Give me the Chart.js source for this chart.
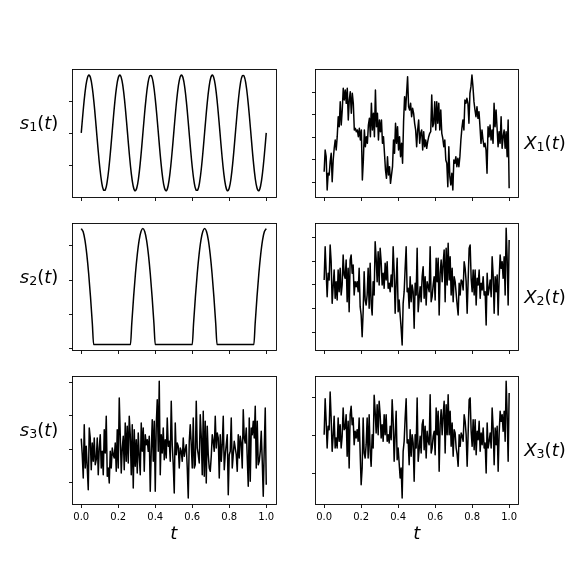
<!DOCTYPE html>
<html>
<head>
<meta charset="utf-8">
<script src="https://cdn.jsdelivr.net/npm/chart.js@4.4.0/dist/chart.umd.min.js"></script>
<style>
    body { margin: 0; background: #fff; }
    #fig { position: relative; width: 576px; height: 576px; overflow: hidden; background: #fff; }
    #fig canvas { position: absolute; left: 0; top: 0; }
    .lbl {
        position: absolute; font-family: "DejaVu Sans"; font-size: 18px; color: #000;
        white-space: nowrap; transform: translate(-50%, -50%); line-height: 1;
    }
    .lbl i { font-style: italic; }
    .lbl sub { font-size: 0.7em; vertical-align: -0.18em; line-height: 0; }
</style>
</head>
<body>
<div id="fig"></div>
<script>
// 1. DADOS
const xTickValues = [0, 0.2, 0.4, 0.6, 0.8, 1.0];
const xTickLabels = ['0.0', '0.2', '0.4', '0.6', '0.8', '1.0'];

// s1: seno, 101 amostras em t = 0..1
const s1Values = [
    0, 0.368, 0.685, 0.905, 0.998, 0.951, 0.771, 0.482, 0.125, -0.249,
    -0.588, -0.844, -0.982, -0.982, -0.844, -0.588, -0.249, 0.125, 0.482, 0.771,
    0.951, 0.998, 0.905, 0.685, 0.368, 0, -0.368, -0.685, -0.905, -0.998,
    -0.951, -0.771, -0.482, -0.125, 0.249, 0.588, 0.844, 0.982, 0.982, 0.844,
    0.588, 0.249, -0.125, -0.482, -0.771, -0.951, -0.998, -0.905, -0.685, -0.368,
    0, 0.368, 0.685, 0.905, 0.998, 0.951, 0.771, 0.482, 0.125, -0.249,
    -0.588, -0.844, -0.982, -0.982, -0.844, -0.588, -0.249, 0.125, 0.482, 0.771,
    0.951, 0.998, 0.905, 0.685, 0.368, 0, -0.368, -0.685, -0.905, -0.998,
    -0.951, -0.771, -0.482, -0.125, 0.249, 0.588, 0.844, 0.982, 0.982, 0.844,
    0.588, 0.249, -0.125, -0.482, -0.771, -0.951, -0.998, -0.905, -0.685, -0.368,
    0
];

// s2: cosseno cortado (tempos e valores)
const s2Times = [
    0, 0.01, 0.02, 0.03, 0.04, 0.05, 0.06, 0.067,
    0.266, 0.273, 0.283, 0.293, 0.303, 0.313, 0.323, 0.333,
    0.343, 0.353, 0.363, 0.373, 0.383, 0.393, 0.400,
    0.600, 0.607, 0.617, 0.627, 0.637, 0.647, 0.657, 0.667,
    0.677, 0.687, 0.697, 0.707, 0.717, 0.727, 0.734,
    0.933, 0.94, 0.95, 0.96, 0.97, 0.98, 0.99, 1.0
];
const s2Values = [
    1, 0.982, 0.930, 0.844, 0.729, 0.588, 0.426, 0.30,
    0.30, 0.426, 0.588, 0.729, 0.844, 0.930, 0.982, 1,
    0.982, 0.930, 0.844, 0.729, 0.588, 0.426, 0.30,
    0.30, 0.426, 0.588, 0.729, 0.844, 0.930, 0.982, 1,
    0.982, 0.930, 0.844, 0.729, 0.588, 0.426, 0.30,
    0.30, 0.426, 0.588, 0.729, 0.844, 0.930, 0.982, 1
];

// s3: ruído
const s3Values = [
    1.88, 1.40, 0.70, 2.30, 1.00, 1.65, 1.00, 0.35, 2.20, 1.90,
    0.95, 1.75, 1.20, 1.90, 1.10, 1.25, 1.90, 0.80, 1.60, 2.00,
    1.00, 1.50, 0.80, 2.15, 1.45, 2.55, 0.75, 1.00, 0.55, 1.50,
    1.00, 1.60, 1.40, 1.30, 1.75, 0.90, 2.15, 1.00, 3.10, 2.00,
    0.85, 1.60, 1.95, 0.95, 2.35, 1.20, 2.25, 1.15, 2.55, 2.00,
    0.80, 2.30, 0.40, 2.15, 1.05, 1.85, 0.85, 2.05, 1.35, 0.80,
    2.35, 1.50, 2.20, 0.90, 2.00, 1.70, 1.85, 1.50, 1.95, 0.30,
    1.50, 2.45, 1.20, 2.40, 0.30, 2.30, 3.05, 1.50, 3.60, 0.80,
    2.00, 1.45, 2.20, 1.25, 1.85, 1.30, 2.50, 1.65, 1.80, 1.20,
    3.00, 1.70, 1.10, 0.25, 2.35, 1.40, 1.75, 1.65, 1.00, 1.60,
    1.50, 1.20, 1.90, 1.35, 1.55, 1.70, 1.00, 0.10, 1.80, 2.30,
    1.70, 1.00, 2.50, 1.00, 1.10, 3.00, 1.60, 1.40, 1.15, 2.60,
    1.95, 0.80, 2.70, 0.75, 2.40, 0.55, 2.25, 1.40, 1.00, 0.90,
    1.35, 2.00, 1.80, 1.50, 2.55, 1.60, 2.05, 1.90, 0.70, 2.00,
    1.20, 1.70, 2.55, 0.95, 1.40, 1.70, 2.00, 0.20, 1.40, 1.50,
    2.50, 1.00, 1.40, 1.80, 1.60, 1.40, 0.90, 2.00, 1.30, 1.95,
    1.75, 1.00, 2.75, 1.90, 1.75, 2.20, 1.30, 0.45, 2.50, 0.60,
    2.20, 2.00, 2.40, 1.90, 2.85, 1.00, 2.40, 1.10, 1.20, 1.50,
    2.10, 1.20, 0.15, 1.60, 2.80, 0.50
];

// X1, X2, X3: misturas observadas
const x1Values = [
    0.65, 1.30, 1.10, 0.10, 0.60, 0.55, 0.95, 1.20, 0.35, 1.00,
    1.35, 1.60, 1.30, 1.70, 2.30, 2.00, 2.75, 2.05, 2.50, 3.15,
    2.80, 3.10, 2.70, 3.15, 2.20, 2.80, 3.05, 2.40, 3.00, 2.70,
    1.90, 1.95, 1.85, 1.90, 1.70, 1.95, 1.60, 1.90, 0.40, 1.00,
    1.90, 1.40, 1.70, 1.50, 2.05, 2.25, 1.70, 2.70, 1.90, 2.40,
    1.70, 3.10, 2.00, 2.40, 1.60, 2.20, 1.85, 2.20, 1.50, 1.70,
    1.20, 0.70, 0.45, 1.10, 0.55, 0.80, 0.30, 0.55, 0.80, 1.60,
    1.20, 2.10, 1.50, 2.00, 1.30, 1.70, 1.10, 1.50, 0.90, 2.15,
    2.90, 2.50, 3.00, 3.50, 2.60, 2.50, 2.70, 2.30, 2.55, 2.40,
    2.10, 1.90, 1.40, 1.90, 2.20, 1.50, 1.80, 1.90, 1.30, 1.85,
    1.40, 1.60, 1.35, 1.55, 1.70, 1.80, 1.85, 2.95, 2.00, 2.10,
    2.75, 1.90, 2.75, 2.10, 2.70, 1.90, 2.50, 1.80, 1.65, 1.40,
    1.60, 1.00, 0.90, 0.20, 1.40, 0.50, 0.25, 0.60, 0.10, 1.00,
    0.90, 1.10, 0.80, 1.05, 0.80, 1.10, 1.60, 1.95, 2.20, 1.90,
    2.80, 2.70, 2.85, 2.70, 2.10, 3.00, 3.20, 3.55, 3.20, 2.75,
    2.50, 2.30, 2.60, 2.25, 2.45, 2.00, 1.50, 1.90, 1.60, 1.40,
    1.50, 1.30, 0.60, 2.00, 1.70, 2.05, 1.60, 1.90, 1.50, 2.70,
    2.00, 2.50, 1.95, 1.40, 1.85, 1.50, 2.30, 1.35, 1.70, 1.90,
    1.35, 1.85, 1.10, 2.20, 0.15
];
const x2Values = [
    2.05, 3.05, 2.30, 1.55, 2.25, 2.05, 3.10, 2.60, 1.35, 1.85,
    2.35, 1.50, 2.00, 1.45, 2.35, 1.70, 2.40, 1.60, 1.90, 2.80,
    2.20, 2.10, 2.65, 1.40, 2.40, 1.10, 2.65, 2.80, 2.25, 2.50,
    1.60, 2.00, 1.85, 2.00, 1.70, 2.40, 1.25, 1.00, 0.35, 1.10,
    2.30, 1.45, 1.30, 1.60, 2.40, 1.20, 2.55, 1.35, 1.00, 2.00,
    1.60, 3.20, 2.70, 2.00, 2.90, 1.90, 3.00, 2.60, 1.90, 2.25,
    1.80, 2.55, 2.05, 2.60, 1.80, 1.95, 1.70, 2.20, 1.85, 3.05,
    2.30, 1.05, 2.00, 2.70, 1.10, 1.45, 1.00, 0.60, 0.10, 1.35,
    1.70, 2.40, 3.05, 1.70, 1.80, 1.20, 2.15, 1.40, 1.90, 1.70,
    0.60, 1.95, 1.60, 3.00, 1.10, 1.50, 1.85, 1.40, 2.15, 2.45,
    1.50, 2.15, 1.30, 2.00, 1.85, 1.70, 3.05, 1.40, 1.55, 1.90,
    2.15, 1.45, 2.70, 2.00, 2.70, 1.00, 2.25, 2.65, 2.00, 2.55,
    2.95, 1.40, 3.00, 1.90, 3.15, 2.05, 2.75, 1.60, 2.40, 1.40,
    2.15, 2.00, 1.65, 1.30, 1.00, 1.95, 1.60, 2.05, 2.00, 1.75,
    2.60, 2.40, 2.00, 1.05, 2.05, 3.00, 3.10, 2.10, 1.70, 2.35,
    1.60, 2.35, 1.30, 2.10, 1.90, 2.35, 1.50, 1.95, 1.75, 2.15,
    1.60, 1.70, 0.70, 2.25, 1.60, 1.80, 2.05, 1.55, 2.75, 2.20,
    1.05, 2.15, 1.70, 2.20, 1.00, 2.10, 2.80, 2.40, 2.60, 2.10,
    2.75, 1.60, 3.60, 2.70, 1.30, 3.25
];
const x3Values = [
    2.00, 3.08, 2.40, 1.60, 2.25, 2.15, 3.28, 2.50, 1.50, 1.95,
    2.55, 1.60, 1.90, 1.60, 2.50, 1.80, 2.30, 1.60, 1.95, 2.80,
    2.15, 2.20, 2.60, 1.35, 2.40, 1.00, 2.60, 2.85, 2.30, 2.50,
    1.70, 2.10, 1.90, 2.15, 1.80, 2.50, 1.45, 0.50, 1.00, 2.50,
    1.45, 1.30, 1.70, 2.50, 1.30, 2.60, 1.50, 1.05, 2.00, 1.60,
    3.18, 2.70, 2.05, 2.90, 2.00, 3.00, 2.60, 1.90, 2.30, 1.80,
    2.60, 2.00, 2.60, 1.80, 2.00, 1.75, 2.25, 1.85, 3.05, 2.40,
    1.20, 2.00, 2.70, 1.25, 1.60, 1.15, 0.70, 1.00, 0.10, 1.50,
    1.80, 2.50, 3.08, 1.75, 1.85, 1.10, 2.15, 1.35, 2.00, 1.75,
    0.60, 2.00, 1.60, 3.10, 1.20, 1.55, 1.95, 1.45, 2.30, 2.45,
    1.55, 2.25, 1.30, 2.10, 1.80, 1.70, 3.20, 1.45, 1.60, 1.95,
    2.10, 1.40, 2.80, 2.00, 2.70, 0.90, 2.30, 2.75, 2.00, 2.60,
    3.00, 1.45, 2.90, 2.00, 3.20, 2.00, 2.70, 1.65, 2.35, 1.35,
    2.15, 2.05, 1.60, 1.40, 1.05, 2.00, 1.65, 2.05, 1.95, 1.80,
    2.60, 2.40, 2.00, 1.05, 2.05, 3.05, 3.10, 2.10, 1.65, 2.45,
    1.55, 2.45, 1.40, 2.10, 1.85, 2.40, 1.50, 2.05, 1.70, 2.20,
    1.60, 1.75, 0.85, 2.35, 1.60, 1.80, 2.05, 1.60, 2.80, 2.20,
    1.10, 2.20, 1.70, 2.25, 0.90, 2.05, 2.70, 2.40, 2.60, 2.10,
    2.70, 1.80, 3.60, 2.60, 1.20, 3.25
];

// posições dos ticks do eixo y (sem rótulos)
const s1YTicks = [-0.555, 0, 0.555];
const s2YTicks = [0.278, 0.483, 0.690, 0.901];
const s3YTicks = [0.57, 1.57, 2.58, 3.58];
const x1YTicks = [0.33, 1.03, 1.70, 2.37, 3.05];
const x2YTicks = [0.48, 1.20, 1.92, 2.63, 3.35];
const x3YTicks = [0.84, 1.98, 3.12];

// 2. LAYOUT (posição dos eixos na figura, em px)
const colLeft = [72, 314.9];
const colWidth = 203.5;
const rowTop = [69.1, 222.8, 376.4];
const rowHeight = 127.6;

// Une valores a tempos uniformes em [0, 1]
function pontosUniformes(valores) {
    const n = valores.length;
    return valores.map((v, i) => ({ x: i / (n - 1), y: v }));
}

// Plugin que desenha moldura, ticks e rótulos estilo matplotlib
const molduraPlugin = {
    id: 'moldura',
    afterDatasetsDraw(chart, args, opts) {
        const { ctx, chartArea: a, scales } = chart;
        ctx.save();
        ctx.strokeStyle = '#000';
        ctx.lineWidth = 0.9;
        const L = Math.round(a.left) + 0.5, R = Math.round(a.right) + 0.5;
        const T = Math.round(a.top) + 0.5, B = Math.round(a.bottom) + 0.5;
        ctx.strokeRect(L, T, R - L, B - T);
        ctx.beginPath();
        opts.xTicks.forEach(v => {
            const x = Math.round(scales.x.getPixelForValue(v)) + 0.5;
            ctx.moveTo(x, B);
            ctx.lineTo(x, B + 3.5);
        });
        opts.yTicks.forEach(v => {
            const y = Math.round(scales.y.getPixelForValue(v)) + 0.5;
            ctx.moveTo(L, y);
            ctx.lineTo(L - 3.5, y);
        });
        ctx.stroke();
        if (opts.showLabels) {
            ctx.fillStyle = '#000';
            ctx.font = '10px "DejaVu Sans"';
            ctx.textAlign = 'center';
            ctx.textBaseline = 'alphabetic';
            opts.xTicks.forEach((v, i) => {
                ctx.fillText(xTickLabels[i], scales.x.getPixelForValue(v), a.bottom + 15.5);
            });
        }
        ctx.restore();
    }
};

const fig = document.getElementById('fig');

function criarPainel(row, col, dados, yMin, yMax, yTicks, suave) {
    const canvas = document.createElement('canvas');
    canvas.width = 576;
    canvas.height = 576;
    canvas.style.width = '576px';
    canvas.style.height = '576px';
    fig.appendChild(canvas);
    const left = colLeft[col], top = rowTop[row];
    new Chart(canvas.getContext('2d'), {
        type: 'line',
        data: {
            datasets: [{
                data: dados,
                borderColor: '#000',
                borderWidth: 1.5,
                pointRadius: 0,
                fill: false,
                borderJoinStyle: 'round',
                tension: suave === 'tension' ? 0.4 : 0,
                cubicInterpolationMode: suave === 'monotone' ? 'monotone' : 'default'
            }]
        },
        options: {
            responsive: false,
            animation: false,
            devicePixelRatio: 1,
            events: [],
            layout: {
                padding: {
                    left: left,
                    top: top,
                    right: 576 - left - colWidth,
                    bottom: 576 - top - rowHeight
                }
            },
            plugins: {
                legend: { display: false },
                tooltip: { enabled: false },
                moldura: { xTicks: xTickValues, yTicks: yTicks, showLabels: row === 2 }
            },
            scales: {
                x: { type: 'linear', min: -0.05, max: 1.05, display: false },
                y: { type: 'linear', min: yMin, max: yMax, display: false }
            }
        },
        plugins: [molduraPlugin]
    });
}

criarPainel(0, 0, s1Values.map((v, i) => ({ x: i / 100, y: v })), -1.1, 1.1, s1YTicks, 'tension');
criarPainel(1, 0, s2Times.map((t, i) => ({ x: t, y: s2Values[i] })), 0.265, 1.035, s2YTicks, 'monotone');
criarPainel(2, 0, pontosUniformes(s3Values), -0.08, 3.748, s3YTicks, null);
criarPainel(0, 1, pontosUniformes(x1Values), -0.101, 3.727, x1YTicks, null);
criarPainel(1, 1, pontosUniformes(x2Values), -0.062, 3.766, x2YTicks, null);
criarPainel(2, 1, pontosUniformes(x3Values), -0.08, 3.748, x3YTicks, null);

// 3. RÓTULOS (texto real)
const rotulos = [
    { html: '<i>s</i><sub>1</sub>(<i>t</i>)', x: 39, y: 123 },
    { html: '<i>s</i><sub>2</sub>(<i>t</i>)', x: 39, y: 277 },
    { html: '<i>s</i><sub>3</sub>(<i>t</i>)', x: 39, y: 430 },
    { html: '<i>X</i><sub>1</sub>(<i>t</i>)', x: 545, y: 143 },
    { html: '<i>X</i><sub>2</sub>(<i>t</i>)', x: 545, y: 297 },
    { html: '<i>X</i><sub>3</sub>(<i>t</i>)', x: 545, y: 450 },
    { html: '<i>t</i>', x: 173.7, y: 533 },
    { html: '<i>t</i>', x: 416.7, y: 533 }
];
rotulos.forEach(r => {
    const d = document.createElement('div');
    d.className = 'lbl';
    d.innerHTML = r.html;
    d.style.left = r.x + 'px';
    d.style.top = r.y + 'px';
    fig.appendChild(d);
});
</script>
</body>
</html>
